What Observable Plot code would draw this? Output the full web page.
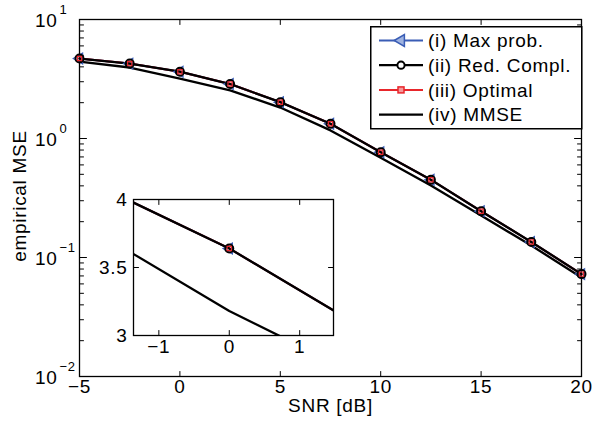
<!DOCTYPE html>
<html><head><meta charset="utf-8">
<script src="https://cdn.jsdelivr.net/npm/d3@7"></script>
<script src="https://cdn.jsdelivr.net/npm/@observablehq/plot@0.6"></script>
<style>
body{margin:0;background:#fff;}
#wrap{position:relative;width:593px;height:430px;font-family:"Liberation Sans",Arial,sans-serif;}
#wrap > svg{position:absolute;overflow:visible;}
</style></head><body><div id="wrap"></div>
<script>
// ---- data ----
const snr = [-5, -2.5, 0, 2.5, 5, 7.5, 10, 12.5, 15, 17.5, 20];
const maxProb  = [4.7, 4.26, 3.64, 2.87, 2.02, 1.33, 0.767, 0.45, 0.245, 0.135, 0.0725];
const redCompl = [4.7, 4.26, 3.64, 2.87, 2.02, 1.33, 0.767, 0.45, 0.245, 0.135, 0.0725];
const optimal  = [4.7, 4.26, 3.64, 2.87, 2.02, 1.33, 0.767, 0.45, 0.245, 0.135, 0.0725];
const mmse     = [4.42, 3.95, 3.18, 2.54, 1.82, 1.17, 0.688, 0.403, 0.225, 0.126, 0.068];
const xTicks = [-5, 0, 5, 10, 15, 20];
const yTicks = [10, 1, 0.1, 0.01];
const insetXTicks = [-1, 0, 1];
const insetYTicks = [3, 3.5, 4];
const seriesNames = ["(i) Max prob.", "(ii) Red. Compl.", "(iii) Optimal", "(iv) MMSE"];
const xLabel = "SNR [dB]";
const yLabel = "empirical MSE";

const BLUE = "#3a5db5", RED = "#e8262b", BLACK = "#000";
const FONT = "Liberation Sans, Arial, sans-serif";
const FS = 19, LS = "0.7px", LW = 2.3;

const rows = (ys) => snr.map((x, i) => ({x, y: ys[i]}));
const dI = rows(maxProb), dII = rows(redCompl), dIII = rows(optimal), dIV = rows(mmse);
const yMinor = [];
for (const d of [0.01, 0.1, 1]) for (let k = 2; k <= 9; k++) yMinor.push(+(d * k).toPrecision(3));

const tickShape = {draw(ctx, l) { ctx.moveTo(0, 0); ctx.lineTo(0, -l); }};
function ticksY(data, len) {
  return [
    Plot.vector(data, {y: d => d, frameAnchor: "left", rotate: 90, length: len, anchor: "start", shape: tickShape, stroke: BLACK, strokeWidth: 1}),
    Plot.vector(data, {y: d => d, frameAnchor: "right", rotate: -90, length: len, anchor: "start", shape: tickShape, stroke: BLACK, strokeWidth: 1})
  ];
}
function ticksX(data, len) {
  return [
    Plot.vector(data, {x: d => d, frameAnchor: "bottom", rotate: 0, length: len, anchor: "start", shape: tickShape, stroke: BLACK, strokeWidth: 1}),
    Plot.vector(data, {x: d => d, frameAnchor: "top", rotate: 180, length: len, anchor: "start", shape: tickShape, stroke: BLACK, strokeWidth: 1})
  ];
}
const fmt = d => d < 0 ? "\u2212" + (-d) : String(d);

function seriesMarks(clip) {
  return [
    Plot.line(dI, {x: "x", y: "y", stroke: BLUE, strokeWidth: 2, clip}),
    Plot.line(dIII, {x: "x", y: "y", stroke: RED, strokeWidth: 2, clip}),
    Plot.line(dII, {x: "x", y: "y", stroke: BLACK, strokeWidth: LW, clip}),
    Plot.line(dIV, {x: "x", y: "y", stroke: BLACK, strokeWidth: LW, clip}),
    Plot.dot(dI, {x: "x", y: "y", symbol: "triangle", rotate: -90, r: 4, stroke: BLUE, strokeWidth: 1.2, fill: "none", clip}),
    Plot.dot(dII, {x: "x", y: "y", symbol: "circle", r: 4, stroke: BLACK, strokeWidth: 2, fill: "none", clip}),
    Plot.dot(dIII, {x: "x", y: "y", symbol: "square", r: 2.4, stroke: RED, strokeWidth: 1.2, fill: "none", clip})
  ];
}

// ---- main chart ----
const main = Plot.plot({
  width: 593, height: 430,
  marginLeft: 79, marginRight: 12, marginTop: 19, marginBottom: 54,
  style: {fontFamily: FONT, background: "transparent", overflow: "visible", letterSpacing: LS},
  x: {domain: [-5, 20], axis: null},
  y: {type: "log", domain: [0.01, 10], axis: null},
  marks: [
    Plot.frame({stroke: BLACK, strokeWidth: 1.3}),
    ...ticksY(yTicks, 7),
    ...ticksY(yMinor, 4),
    ...ticksX(xTicks, 5),
    Plot.text(yTicks, {y: d => d, frameAnchor: "left", dx: -22, textAnchor: "end", text: () => "10", fontSize: FS, dy: 1}),
    Plot.text(yTicks, {y: d => d, frameAnchor: "left", dx: -20, textAnchor: "start", text: d => fmt(Math.round(Math.log10(d))), fontSize: 13, dy: -10}),
    Plot.text(xTicks, {x: d => d, frameAnchor: "bottom", dy: 16, text: fmt, fontSize: FS}),
    Plot.text([xLabel], {frameAnchor: "bottom", dy: 35, textAnchor: "middle", text: d => d, fontSize: FS}),
    Plot.text([yLabel], {frameAnchor: "left", dx: -60, dy: -2, rotate: -90, textAnchor: "middle", text: d => d, fontSize: FS}),
    ...seriesMarks(false)
  ]
});
main.style.left = "0px"; main.style.top = "0px";
document.getElementById("wrap").appendChild(main);

// ---- inset ----
const inset = Plot.plot({
  width: 260, height: 180,
  marginLeft: 50, marginRight: 10, marginTop: 10, marginBottom: 34,
  style: {fontFamily: FONT, background: "transparent", overflow: "visible", letterSpacing: LS},
  x: {domain: [-1.36, 1.48], axis: null},
  y: {domain: [3, 4], axis: null},
  marks: [
    Plot.frame({fill: "white", stroke: "none"}),
    ...seriesMarks(true),
    Plot.frame({stroke: BLACK, strokeWidth: 1.3}),
    ...ticksY(insetYTicks, 5),
    ...ticksX(insetXTicks, 5),
    Plot.text(insetYTicks, {y: d => d, frameAnchor: "left", dx: -6, textAnchor: "end", text: d => String(d), fontSize: FS}),
    Plot.text(insetXTicks, {x: d => d, frameAnchor: "bottom", dy: 17, textAnchor: "middle", text: fmt, fontSize: FS})
  ]
});
inset.style.left = "83px"; inset.style.top = "189px";
document.getElementById("wrap").appendChild(inset);

// ---- legend ----
const lg = d3.create("svg").attr("width", 213).attr("height", 104)
  .style("left", "370px").style("top", "26px").style("font-family", FONT).style("letter-spacing", LS);
lg.append("rect").attr("x", 0.75).attr("y", 0.75).attr("width", 211).attr("height", 102)
  .attr("fill", "white").attr("stroke", BLACK).attr("stroke-width", 1.5);
const styles = [
  {stroke: BLUE, w: 2, m: "tri"},
  {stroke: BLACK, w: LW, m: "circle"},
  {stroke: RED, w: 2, m: "square"},
  {stroke: BLACK, w: LW, m: null}
];
seriesNames.forEach((name, i) => {
  const cy = 14.5 + i * 24.7, cx = 31;
  const s = styles[i];
  lg.append("line").attr("x1", 9).attr("x2", 53).attr("y1", cy).attr("y2", cy).attr("stroke", s.stroke).attr("stroke-width", s.w);
  if (s.m === "circle") lg.append("circle").attr("cx", cx).attr("cy", cy).attr("r", 3.6).attr("fill", "white").attr("stroke", BLACK).attr("stroke-width", 2);
  if (s.m === "square") lg.append("rect").attr("x", cx - 3).attr("y", cy - 3).attr("width", 6).attr("height", 6).attr("fill", "#f49a9c").attr("stroke", RED).attr("stroke-width", 1.5);
  if (s.m === "tri") lg.append("path").attr("transform", `translate(${cx},${cy}) rotate(-90)`).attr("d", d3.symbol(d3.symbolTriangle, 60)()).attr("fill", "#9fb3e0").attr("stroke", BLUE).attr("stroke-width", 1.5);
  lg.append("text").attr("x", 58).attr("y", cy).attr("dy", "0.35em").attr("font-size", FS).text(name);
});
document.getElementById("wrap").appendChild(lg.node());
</script></body></html>
